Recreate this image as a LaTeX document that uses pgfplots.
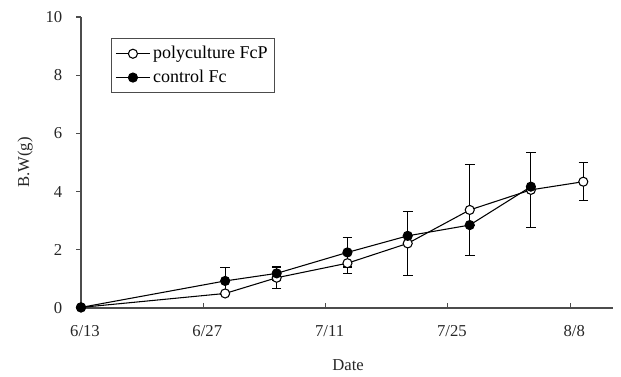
\documentclass[border=0pt]{standalone}
\usepackage{pgfplots}
\pgfplotsset{compat=1.18}
\usepackage{fontspec}
\setmainfont{Liberation Serif}
\begin{document}
\begin{tikzpicture}[x=1pt,y=1pt]
\useasboundingbox (0,0) rectangle (465.75,282);
\begin{axis}[
  scale only axis,
  width=399pt, height=218.25pt,
  at={(60.75pt,51pt)}, anchor=south west,
  xmin=0, xmax=60.9, ymin=0, ymax=10,
  axis lines*=left,
  axis line style={gray!60!black, line width=0.8pt},
  xtick={0,14,28,42,56},
  xticklabels={6/13,6/27,7/11,7/25,8/8},
  ytick={0,2,4,6,8,10},
  tick align=outside,
  major tick length=3.5pt,
  tick style={gray!60!black, line width=0.8pt},
  xtick style={yshift=3.5pt},
  /pgf/number format/assume math mode=true,
  tick label style={font=\fontsize{12.5}{14}\selectfont, text=black!85},
  x tick label style={yshift=-6pt, xshift=3pt},
  y tick label style={xshift=-7pt},
  xlabel={Date},
  ylabel={B.W(g)},
  every axis x label/.style={at={(axis description cs:0.502,-0.196)}, anchor=center, font=\fontsize{12.5}{14}\selectfont, text=black!85},
  every axis y label/.style={at={(axis description cs:-0.105,0.5)}, anchor=center, rotate=90, font=\fontsize{12.5}{14}\selectfont, text=black!85},
  legend style={at={(axis description cs:0.056,0.928)}, anchor=north west,
    draw=gray!60!black, line width=0.8pt, font=\fontsize{13.5}{15}\selectfont,
    inner xsep=3pt, inner ysep=4pt, row sep=3pt, cells={anchor=west}},
  legend cell align=left,
  legend image code/.code={\draw[mark repeat=2,mark phase=2] plot coordinates {(0cm,0cm)(0.45cm,0cm)(0.9cm,0cm)};},
  clip=false,
]
\addplot+[black, line width=0.8pt, mark=*, mark size=3.4pt,
  mark options={fill=white, draw=black, line width=0.8pt},
  error bars/.cd, y dir=both, y explicit,
  error bar style={black, line width=0.8pt},
  error mark options={rotate=90, mark size=3.6pt, line width=0.8pt}]
  coordinates {
  (0,0.02) +- (0,0)
  (16.5,0.50) +- (0,0)
  (22.4,1.04) +- (0,0.36)
  (30.5,1.54) +- (0,0.35)
  (37.4,2.22) +- (0,1.10)
  (44.5,3.37) +- (0,1.55)
  (51.5,4.06) +- (0,1.28)
  (57.5,4.34) +- (0,0.65)
  };
\addlegendentry{polyculture FcP}
\addplot+[black, line width=0.8pt, mark=*, mark size=3.4pt,
  mark options={fill=black, draw=black, line width=0.8pt},
  error bars/.cd, y dir=both, y explicit,
  error bar style={black, line width=0.8pt},
  error mark options={rotate=90, mark size=3.6pt, line width=0.8pt}]
  coordinates {
  (0,0.02) +- (0,0)
  (16.5,0.93) +- (0,0.45)
  (22.4,1.19) +- (0,0.23)
  (30.5,1.91) +- (0,0.50)
  (37.4,2.48) +- (0,0)
  (44.5,2.85) +- (0,0)
  (51.5,4.17) +- (0,0)
  };
\addlegendentry{control Fc}
\end{axis}
\end{tikzpicture}
\end{document}
